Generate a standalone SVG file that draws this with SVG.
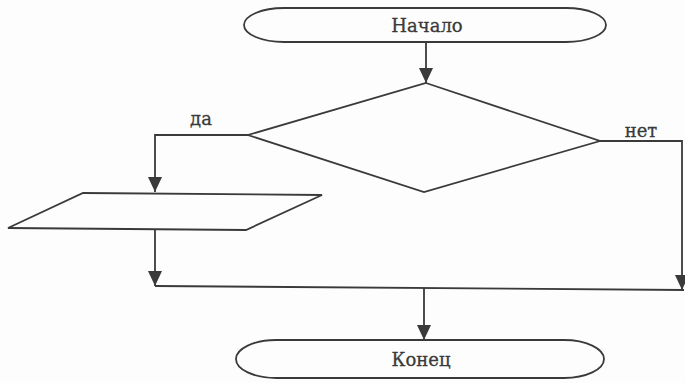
<svg xmlns="http://www.w3.org/2000/svg" width="685" height="383" viewBox="0 0 685 383">
<style>
.s{fill:#fdfdfd;stroke:#3a3a3a;stroke-width:1.8}
.c{fill:none;stroke:#3a3a3a;stroke-width:1.8}
.t{font-family:"DejaVu Serif","Liberation Serif",serif;font-size:18px;fill:#3a3a3a;stroke:#3a3a3a;stroke-width:0.3}
</style>
<defs>
<marker id="ah" markerWidth="15" markerHeight="14" refX="15" refY="7" orient="auto" markerUnits="userSpaceOnUse" viewBox="0 0 15 14">
<path d="M0,0 L15,7 L0,14 Z" fill="#3a3a3a"/>
</marker>
</defs>
<rect width="685" height="383" fill="#fdfdfd"/>
<g id="connectors">
<line class="c" x1="426" y1="42" x2="426" y2="83" marker-end="url(#ah)"/>
<polyline class="c" points="248,135 155,135 155,192" marker-end="url(#ah)"/>
<line class="c" x1="155" y1="229" x2="155" y2="286" marker-end="url(#ah)"/>
<polyline class="c" points="600,141 682,141 682,290" marker-end="url(#ah)"/>
<line class="c" x1="155" y1="286" x2="684" y2="290"/>
<line class="c" x1="424" y1="288" x2="424" y2="340" marker-end="url(#ah)"/>
</g>
<g id="start">
<rect class="s" x="244" y="8" width="362" height="34" rx="40" ry="17"/>
<text class="t" x="427" y="32" text-anchor="middle">Начало</text>
</g>
<g id="decision">
<polygon class="s" points="426,83 600,141 424,192 248,135"/>
</g>
<g id="label-yes"><text class="t" x="201" y="125" text-anchor="middle">да</text></g>
<g id="label-no"><text class="t" x="641" y="137" text-anchor="middle">нет</text></g>
<g id="io">
<polygon class="s" points="83,193 322,195 246,230 8,228"/>
</g>
<g id="end">
<rect class="s" x="236" y="340" width="368" height="38" rx="40" ry="19"/>
<text class="t" x="421" y="366" text-anchor="middle">Конец</text>
</g>
</svg>
